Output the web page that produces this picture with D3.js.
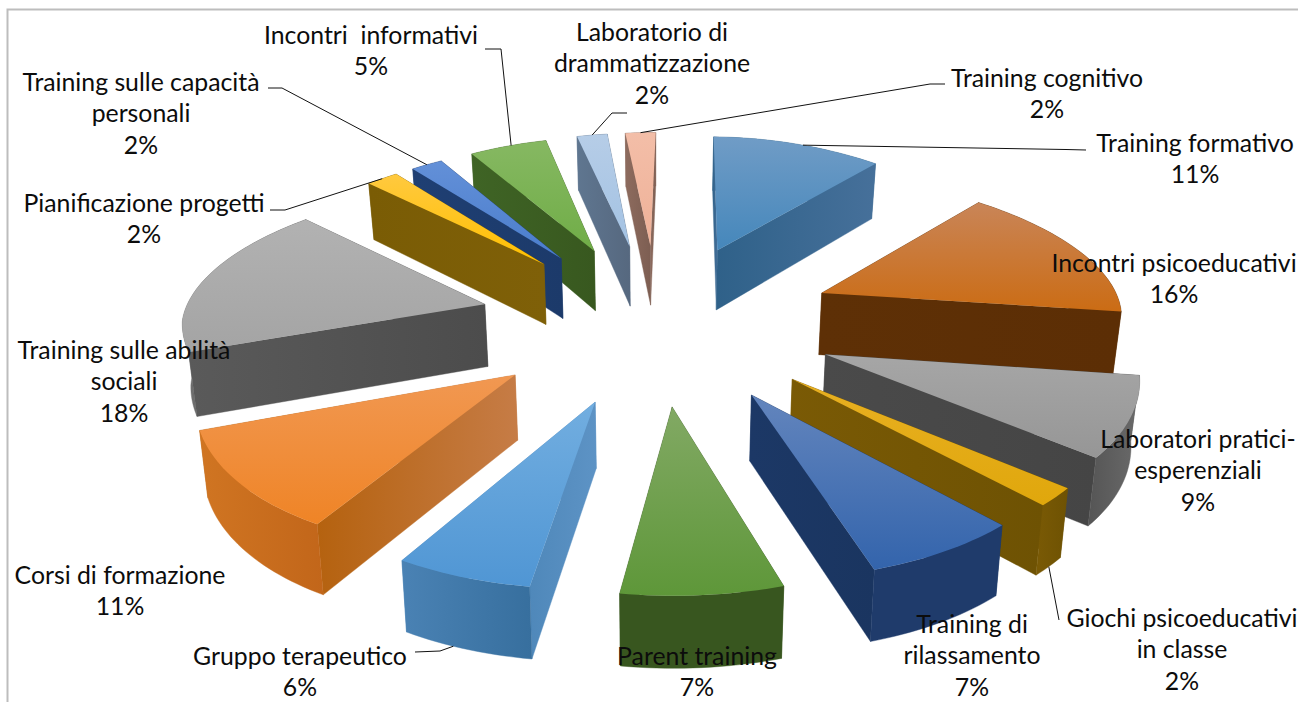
<!DOCTYPE html>
<html>
<head>
<meta charset="utf-8">
<script src="https://cdnjs.cloudflare.com/ajax/libs/d3/7.8.5/d3.min.js"></script>
<style>
html,body{margin:0;padding:0;background:#fff;overflow:hidden}
text{font-family:Lato,"Open Sans",sans-serif;fill:#0c0c0c}
</style>
</head>
<body>
<svg id="chart" width="1298" height="702"></svg>
<script>
// Activities and their percentage shares, clockwise from twelve o'clock
const categories = ["Training formativo","Incontri psicoeducativi","Laboratori pratici-esperenziali","Giochi psicoeducativi in classe","Training di rilassamento","Parent training","Gruppo terapeutico","Corsi di formazione","Training sulle abilità sociali","Pianificazione progetti","Training sulle capacità personali","Incontri  informativi","Laboratorio di drammatizzazione","Training cognitivo"];
const shares = [11,16,9,2,7,7,6,11,18,2,2,5,2,2];

// Label text split over lines
const labelLines = [["Training formativo"],["Incontri psicoeducativi"],["Laboratori pratici-","esperenziali"],["Giochi psicoeducativi","in classe"],["Training di","rilassamento"],["Parent training"],["Gruppo terapeutico"],["Corsi di formazione"],["Training sulle abilità","sociali"],["Pianificazione progetti"],["Training sulle capacità","personali"],["Incontri  informativi"],["Laboratorio di","drammatizzazione"],["Training cognitivo"]];

// Face colours: top face (far, near), radial wall and curved wall (left, right)
const topColors = [["#709cc6","#4587bb"],["#c98558","#cb6c14"],["#a6a6a6","#969696"],["#e8b022","#e0a70c"],["#6385bd","#3364ac"],["#82a964","#5e9739"],["#72aee0","#5096d4"],["#f19852","#ef8426"],["#b2b2b2","#a4a4a4"],["#ffc93f","#ffc000"],["#6390d8","#4a7dcc"],["#86b862","#70ad47"],["#b6cde7","#a3c2e3"],["#f3bea8","#efb198"]];
const radialColors = [["#2f6189","#46709a"],["#5e3006","#5c2e05"],["#4a4a4a","#454545"],["#7a5a05","#6e5203"],["#1c3866","#1a3560"],["#3b5c22","#36541e"],["#4f88ba","#5d93c5"],["#b5620f","#c67c46"],["#5a5a5a","#4c4c4c"],["#7a5c05","#7f6008"],["#1f3f73","#1c3a6a"],["#3f6425","#38581f"],["#5f7690","#56687f"],["#8d6b5e","#7d5e52"]];
const outerColors = [["#33658c","#33658c"],["#5e3006","#5c2e05"],["#555555","#6a6a6a"],["#7a5a05","#6e5203"],["#1f3b6b","#1f3b6b"],["#38561f","#38561f"],["#4a82b4","#376f9e"],["#d07522","#c2661a"],["#707070","#555555"],["#7a5c05","#7a5c05"],["#1f3f73","#1f3f73"],["#3f6425","#3f6425"],["#5f7690","#5f7690"],["#8d6b5e","#8d6b5e"]];

// Label layout: centre x and the vertical centre of the first line
const labelCentres = [[1195,143],[1174,263],[1198,439],[1182,618],[972,624],[697,656],[300,656],[120,575],[124,350],[144,203],[141,82],[371,35],[652,32],[1047,78]];
// Leader lines: slice index, the bend nearest the label, position along the outer edge, rim level
const leaders = [
  {slice:0, from:[[1086,150],[1066,149.5]], along:0.53, lift:0},
  {slice:3, from:[[1059,620]], along:0.5, lift:1},
  {slice:6, from:[[415,652],[440,651]], along:0.62, lift:1},
  {slice:9, from:[[270,210],[285,210]], along:0.5, lift:0},
  {slice:10, from:[[268,88],[282,88]], along:0.5, lift:0},
  {slice:11, from:[[485,49],[501,49]], along:0.52, lift:0},
  {slice:12, from:[[627,113],[612,113]], along:0.5, lift:0},
  {slice:13, from:[[945,84],[930,84]], along:0.5, lift:0}
];

// Scene geometry
const CX = 658, RX = 302, EXPLODE = 0.595, ROTATION = 1 * Math.PI / 180;
const vertical = Y => 320.3 - 134.2 * Y + 17.3 * Y * Y - 4.38 * Y * Y * Y;
const widthAt = Y => RX * (Y < 0 ? 1 - 0.09 * Y + 0.045 * Y * Y : 1 - 0.125 * Y);
const shear = Y => 1 * Math.min(Y, 0);
const thickness = Y => 63 - 6 * Y;

// Projects a point of the pie plane; lift 1 is the base of the slab
function project(X, Y, lift) {
  const shrink = 1 - 0.018 * lift;
  return [CX + shear(Y) + X * widthAt(Y) * shrink, vertical(Y) + lift * thickness(Y)];
}

const svg = d3.select("#chart");
const defs = svg.append("defs");
const line = d3.line();

const pie = d3.pie().sort(null).value(d => d)
  .startAngle(ROTATION).endAngle(ROTATION + 2 * Math.PI);
const arcs = pie(shares);

const slices = arcs.map((a, i) => {
  const mid = (a.startAngle + a.endAngle) / 2;
  const ox = EXPLODE * Math.sin(mid), oy = EXPLODE * Math.cos(mid);
  const n = Math.max(6, Math.round((a.endAngle - a.startAngle) * 40));
  const rim = d3.range(n + 1).map(k => {
    const t = a.startAngle + (a.endAngle - a.startAngle) * k / n;
    return [ox + Math.sin(t), oy + Math.cos(t)];
  });
  return {i, mid, apex: [ox, oy], rim};
});

function gradient(id, colors, p0, p1) {
  const g = defs.append("linearGradient").attr("id", id)
    .attr("gradientUnits", "userSpaceOnUse")
    .attr("x1", p0[0]).attr("y1", p0[1]).attr("x2", p1[0]).attr("y2", p1[1]);
  g.append("stop").attr("offset", 0).attr("stop-color", colors[0]);
  g.append("stop").attr("offset", 1).attr("stop-color", colors[1]);
  return `url(#${id})`;
}

function wall(points) {
  const top = points.map(p => project(p[0], p[1], 0));
  const bottom = points.map(p => project(p[0], p[1], 1)).reverse();
  return top.concat(bottom);
}

const pieLayer = svg.append("g");

// Far slices are painted first so nearer ones cover them
slices.slice().sort((a, b) => (b.apex[1] + Math.cos(b.mid)) - (a.apex[1] + Math.cos(a.mid))).forEach(s => {
  const g = pieLayer.append("g").attr("class", "slice");
  const walls = [
    {pts: [s.apex, s.rim[0]], kind: "radial", name: "a"},
    {pts: [s.apex, s.rim[s.rim.length - 1]], kind: "radial", name: "b"},
    {pts: s.rim, kind: "outer", name: "c"}
  ];
  const depth = w => d3.mean(w.pts, p => p[1]);
  walls.sort((a, b) => depth(b) - depth(a)).forEach(w => {
    const poly = wall(w.pts);
    const xs = d3.extent(poly, p => p[0]);
    const colors = w.kind === "radial" ? radialColors[s.i] : outerColors[s.i];
    const fill = gradient(`w${s.i}${w.name}`, colors, [xs[0], 0], [xs[1], 0]);
    g.append("path").attr("d", line(poly) + "Z").attr("fill", fill).attr("stroke", fill).attr("stroke-width", 0.4);
  });
  const face = [s.apex].concat(s.rim).map(p => project(p[0], p[1], 0));
  const ys = d3.extent(face, p => p[1]);
  g.append("path").attr("d", line(face) + "Z")
    .attr("fill", gradient(`t${s.i}`, topColors[s.i], [0, ys[0]], [0, ys[1]]));
});

// Chart frame
svg.append("path").attr("d", "M7.5,702V9.5H1298").attr("fill", "none").attr("stroke", "#bdbdbd").attr("stroke-width", 2);

// Leader lines run to the rim of their slice
leaders.forEach(l => {
  const s = slices[l.slice];
  const p = s.rim[Math.round(l.along * (s.rim.length - 1))];
  const end = project(p[0], p[1], l.lift);
  svg.append("path").attr("d", line(l.from.concat([end]))).attr("fill", "none").attr("stroke", "#111").attr("stroke-width", 1);
});

// Labels: name lines followed by the share
const LINE = 31.5;
const labels = svg.append("g").attr("text-anchor", "middle").attr("font-size", 24.8);
labelLines.forEach((lines, i) => {
  const [x, y] = labelCentres[i];
  lines.concat([shares[i] + "%"]).forEach((t, k) => {
    labels.append("text").attr("x", x).attr("y", y + k * LINE).attr("dy", "0.35em")
      .attr("xml:space", "preserve").style("white-space", "pre").text(t);
  });
});
</script>
</body>
</html>
